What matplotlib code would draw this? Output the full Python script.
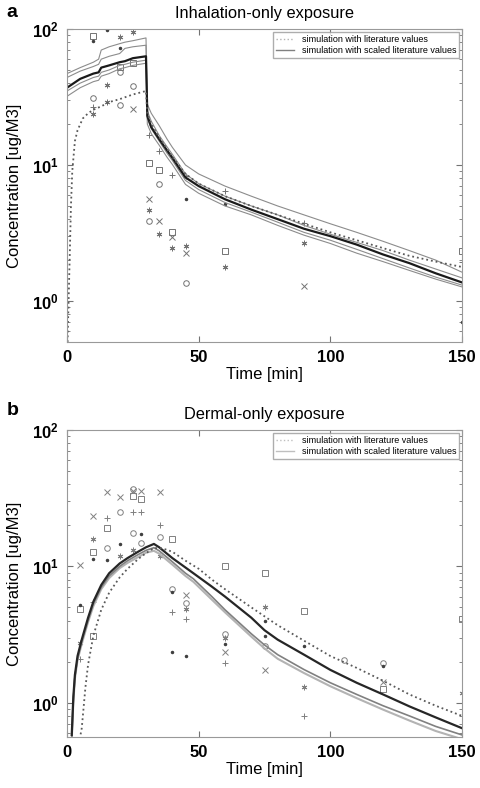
import numpy as np
import matplotlib
matplotlib.use('Agg')
import matplotlib.pyplot as plt
from matplotlib.ticker import LogLocator, NullFormatter

plt.rcParams['font.family'] = ['Liberation Sans', 'DejaVu Sans']
plt.rcParams['mathtext.fontset'] = 'custom'
plt.rcParams['mathtext.rm'] = 'Liberation Sans'
plt.rcParams['mathtext.bf'] = 'Liberation Sans:bold'

# ---- panel a : inhalation-only ----
# literature values (dotted)
a_lit_t = [0.2, 0.6, 1, 1.5, 2, 3, 4, 6, 8, 10, 13, 16, 20, 25, 30, 30.5, 32, 35, 40, 45, 50, 60, 70, 80, 90, 100, 110, 120, 130, 140, 150]
a_lit_c = [0.5, 1.0, 2.0, 5.0, 9.0, 15, 18, 22, 24, 25.5, 27, 29, 30.5, 33, 35, 24, 20, 16, 11.5, 8.6, 7.3, 5.9, 5.0, 4.3, 3.7, 3.2, 2.8, 2.45, 2.15, 1.95, 1.78]
# scaled simulations (black mean + gray band)
a_t = [0, 5, 10, 12, 13, 16, 20, 22, 25, 30, 30.5, 32, 35, 38, 40, 45, 50, 60, 70, 80, 90, 100, 110, 120, 130, 140, 150]
a_black = [37, 43, 47, 48, 52, 54, 57, 58, 61, 63, 23, 19, 15.5, 12.8, 11.3, 8.1, 7.0, 5.6, 4.7, 4.0, 3.4, 3.0, 2.6, 2.2, 1.9, 1.6, 1.37]
a_g1 = [47, 52, 57, 60, 70, 74, 78, 80, 82, 86, 28, 24, 19.5, 15.5, 13.5, 10.0, 8.6, 7.0, 5.9, 5.0, 4.3, 3.7, 3.2, 2.75, 2.35, 2.0, 1.63]
a_g2 = [44, 49, 53, 55, 60, 63, 66, 72, 74, 76, 25, 21, 16.5, 13.6, 12, 8.6, 7.3, 5.9, 5.0, 4.3, 3.6, 3.1, 2.7, 2.35, 2.0, 1.72, 1.48]
a_g3 = [35, 40, 44, 45, 48, 50, 54, 55, 57, 59, 22, 18.5, 15, 12.2, 10.8, 7.7, 6.6, 5.3, 4.5, 3.8, 3.2, 2.8, 2.4, 2.05, 1.75, 1.5, 1.31]
a_g4 = [32, 37, 41, 42, 45, 47, 51, 52, 54, 56, 20, 17, 14, 11.4, 10.1, 7.2, 6.2, 5.0, 4.3, 3.6, 3.05, 2.65, 2.25, 1.95, 1.68, 1.45, 1.27]

# measured concentrations, panel a
a_sq_t = [10, 20, 25, 31, 35, 40, 60, 150]
a_sq_c = [89, 53, 56, 10.3, 9.2, 3.24, 2.34, 2.35]
a_ci_t = [20, 25, 10, 20, 35, 31, 45]
a_ci_c = [48, 38, 31, 27.7, 7.2, 3.9, 1.36]
a_x_t = [25, 31, 35, 40, 45, 90]
a_x_c = [26, 5.6, 3.9, 2.98, 2.25, 1.29]
a_pl_t = [10, 31, 35, 40, 45, 60, 90, 150]
a_pl_c = [26.5, 16.7, 12.7, 8.5, 8.3, 6.4, 3.75, 1.95]
a_st_t = [20, 25, 15, 15, 10, 31, 35, 40, 45, 60, 90]
a_st_c = [88, 95, 39, 29, 23.6, 4.67, 3.1, 2.44, 2.55, 1.77, 2.69]
a_dot_t = [10, 15, 20, 45, 60, 150]
a_dot_c = [81, 98, 72, 5.65, 5.2, 0.7]

# ---- panel b : dermal-only ----
b_lit_t = [4.5, 5.6, 7, 8, 10, 13, 16, 20, 23, 27, 30, 33, 36, 40, 45, 50, 55, 60, 70, 75, 80, 90, 100, 110, 120, 130, 140, 150]
b_lit_c = [0.5, 0.65, 1.3, 1.9, 3.1, 4.8, 6.4, 8.3, 9.6, 11.3, 12.5, 13.6, 13.6, 12.8, 11.0, 9.6, 8.0, 6.8, 5.0, 4.3, 3.7, 2.85, 2.2, 1.8, 1.45, 1.15, 0.95, 0.8]
b_t = [1.8, 2.4, 3, 4, 5.6, 8, 10, 13, 16, 20, 23, 27, 30, 33, 35, 40, 45, 48, 55, 60, 70, 75, 80, 90, 100, 110, 120, 130, 140, 150]
b_black = [0.58, 1.1, 1.6, 2.2, 2.9, 4.2, 5.5, 7.3, 8.9, 10.5, 11.5, 12.8, 13.8, 14.6, 13.8, 11.5, 9.8, 8.9, 7.1, 6.0, 4.2, 3.4, 2.9, 2.25, 1.74, 1.4, 1.15, 0.94, 0.78, 0.65]
b_g1 = [0.55, 1.05, 1.55, 2.1, 2.8, 4.0, 5.3, 7.0, 8.5, 10.0, 11.0, 12.2, 13.1, 13.7, 13.0, 10.8, 8.9, 8.1, 6.0, 4.8, 3.2, 2.65, 2.25, 1.75, 1.4, 1.15, 0.95, 0.8, 0.67, 0.58]
b_g2 = [0.53, 1.0, 1.5, 2.05, 2.7, 3.9, 5.1, 6.8, 8.2, 9.7, 10.6, 11.7, 12.6, 13.0, 12.4, 10.3, 8.5, 7.7, 5.7, 4.6, 3.05, 2.5, 2.1, 1.65, 1.32, 1.08, 0.89, 0.74, 0.62, 0.54]

b_x_t = [15, 20, 25, 28, 35.5, 10, 5, 45, 60, 75, 120]
b_x_c = [35.3, 32, 36, 36, 35, 23.5, 10.2, 6.2, 2.35, 1.75, 1.41]
b_sq_t = [25, 28, 15, 10, 40, 5, 10, 60, 75, 90, 120, 150]
b_sq_c = [33, 31, 19.2, 12.7, 15.8, 4.9, 3.06, 10, 9.0, 4.7, 1.25, 4.1]
b_ci_t = [25, 20, 25, 28, 35.5, 15, 40, 45, 60, 75, 105, 120]
b_ci_c = [37, 25, 17.6, 14.9, 16.3, 13.7, 6.8, 5.35, 3.2, 2.6, 2.07, 1.94]
b_pl_t = [25, 28, 15, 35.5, 10, 40, 45, 60, 90, 5]
b_pl_c = [25, 25, 22.6, 20, 5.5, 4.6, 4.1, 1.97, 0.8, 2.1]
b_st_t = [10, 20, 25, 35.5, 45, 60, 75, 90, 150, 5]
b_st_c = [16, 12, 13.2, 12, 4.9, 3.0, 5.0, 1.3, 1.17, 2.74]
b_dot_t = [28, 20, 10, 15, 5, 40, 40, 45, 60, 75, 75, 90, 120]
b_dot_c = [17.2, 14.5, 11.3, 11.2, 5.2, 6.5, 2.35, 2.2, 2.7, 4.0, 3.1, 2.6, 1.85]

xticks = [0, 50, 100, 150]
yticks = [1, 10, 100]
ytick_labels = [r'$\mathbf{10^{0}}$', r'$\mathbf{10^{1}}$', r'$\mathbf{10^{2}}$']
leg_labels = ['simulation with literature values', 'simulation with scaled literature values']

ASTERISK = (6, 2, 0)


def style_axes(ax, ymin, title):
    ax.set_yscale('log')
    ax.set_xlim(0, 150)
    ax.set_ylim(ymin, 100)
    ax.set_xticks(xticks)
    ax.set_xticklabels([str(v) for v in xticks], fontweight='bold', fontsize=12)
    ax.set_yticks(yticks)
    ax.set_yticklabels(ytick_labels, fontsize=12)
    ax.yaxis.set_minor_locator(LogLocator(base=10, subs=np.arange(2, 10)))
    ax.yaxis.set_minor_formatter(NullFormatter())
    ax.tick_params(which='both', direction='in', top=True, right=True, color='0.45')
    ax.tick_params(which='major', length=4, pad=6)
    ax.tick_params(which='minor', length=2)
    for s in ax.spines.values():
        s.set_color('0.6')
        s.set_linewidth(0.8)
    ax.set_xlabel('Time [min]', fontsize=12, labelpad=1)
    ax.set_ylabel('Concentration [ug/M3]', fontsize=12)
    ax.yaxis.set_label_coords(-0.113, 0.5)
    ax.set_title(title, fontsize=11.8, pad=8)


def markers(ax, data, col):
    ms = dict(linestyle='none', markersize=4, markeredgewidth=0.7)
    ax.plot(data[0][0], data[0][1], 's', mfc='none', mec=col, **ms)
    ax.plot(data[1][0], data[1][1], 'o', mfc='none', mec=col, **ms)
    ax.plot(data[2][0], data[2][1], 'x', color=col, **ms)
    ax.plot(data[3][0], data[3][1], '+', color=col, **ms)
    ax.plot(data[4][0], data[4][1], marker=ASTERISK, color=col, **ms)
    ax.plot(data[5][0], data[5][1], '.', color='0.25', linestyle='none', markersize=3)


fig = plt.figure(figsize=(4.81, 7.88), dpi=100)

# panel a
ax1 = fig.add_axes([0.1393, 0.566, 0.8212, 0.3972])
markers(ax1, [(a_sq_t, a_sq_c), (a_ci_t, a_ci_c), (a_x_t, a_x_c), (a_pl_t, a_pl_c),
              (a_st_t, a_st_c), (a_dot_t, a_dot_c)], '0.45')
for g in [a_g1, a_g2, a_g3, a_g4]:
    ax1.plot(a_t, g, color='0.55', lw=0.8)
ax1.plot(a_t, a_black, color='0.1', lw=1.6)
ax1.plot(a_lit_t, a_lit_c, ':', color='0.35', lw=1.3)
h1, = ax1.plot([], [], ':', color='0.7', lw=1.0)
h2, = ax1.plot([], [], '-', color='0.5', lw=1.0)
ax1.legend([h1, h2], leg_labels, loc='upper right', fontsize=6.5, frameon=True, fancybox=False,
           edgecolor='0.6', borderpad=0.35, handlelength=2.0, labelspacing=0.25, borderaxespad=0.3)
style_axes(ax1, 0.5, 'Inhalation-only exposure')

# panel b
ax2 = fig.add_axes([0.1393, 0.0647, 0.8212, 0.3896])
markers(ax2, [(b_sq_t, b_sq_c), (b_ci_t, b_ci_c), (b_x_t, b_x_c), (b_pl_t, b_pl_c),
              (b_st_t, b_st_c), (b_dot_t, b_dot_c)], '0.5')
ax2.plot(b_t, b_g2, color='0.7', lw=1.5)
ax2.plot(b_t, b_g1, color='0.5', lw=1.2)
ax2.plot(b_t, b_black, color='0.15', lw=1.6)
ax2.plot(b_lit_t, b_lit_c, ':', color='0.35', lw=1.3)
h1, = ax2.plot([], [], ':', color='0.75', lw=1.0)
h2, = ax2.plot([], [], '-', color='0.75', lw=1.0)
ax2.legend([h1, h2], leg_labels, loc='upper right', fontsize=6.5, frameon=True, fancybox=False,
           edgecolor='0.6', borderpad=0.35, handlelength=2.0, labelspacing=0.25, borderaxespad=0.3)
style_axes(ax2, 0.56, 'Dermal-only exposure')

# panel letters
fig.text(0.014, 1 - 17 / 788, 'a', fontsize=14, fontweight='bold', va='baseline', ha='left')
fig.text(0.014, 1 - 415 / 788, 'b', fontsize=14, fontweight='bold', va='baseline', ha='left')

fig.savefig('out.png', dpi=100)
